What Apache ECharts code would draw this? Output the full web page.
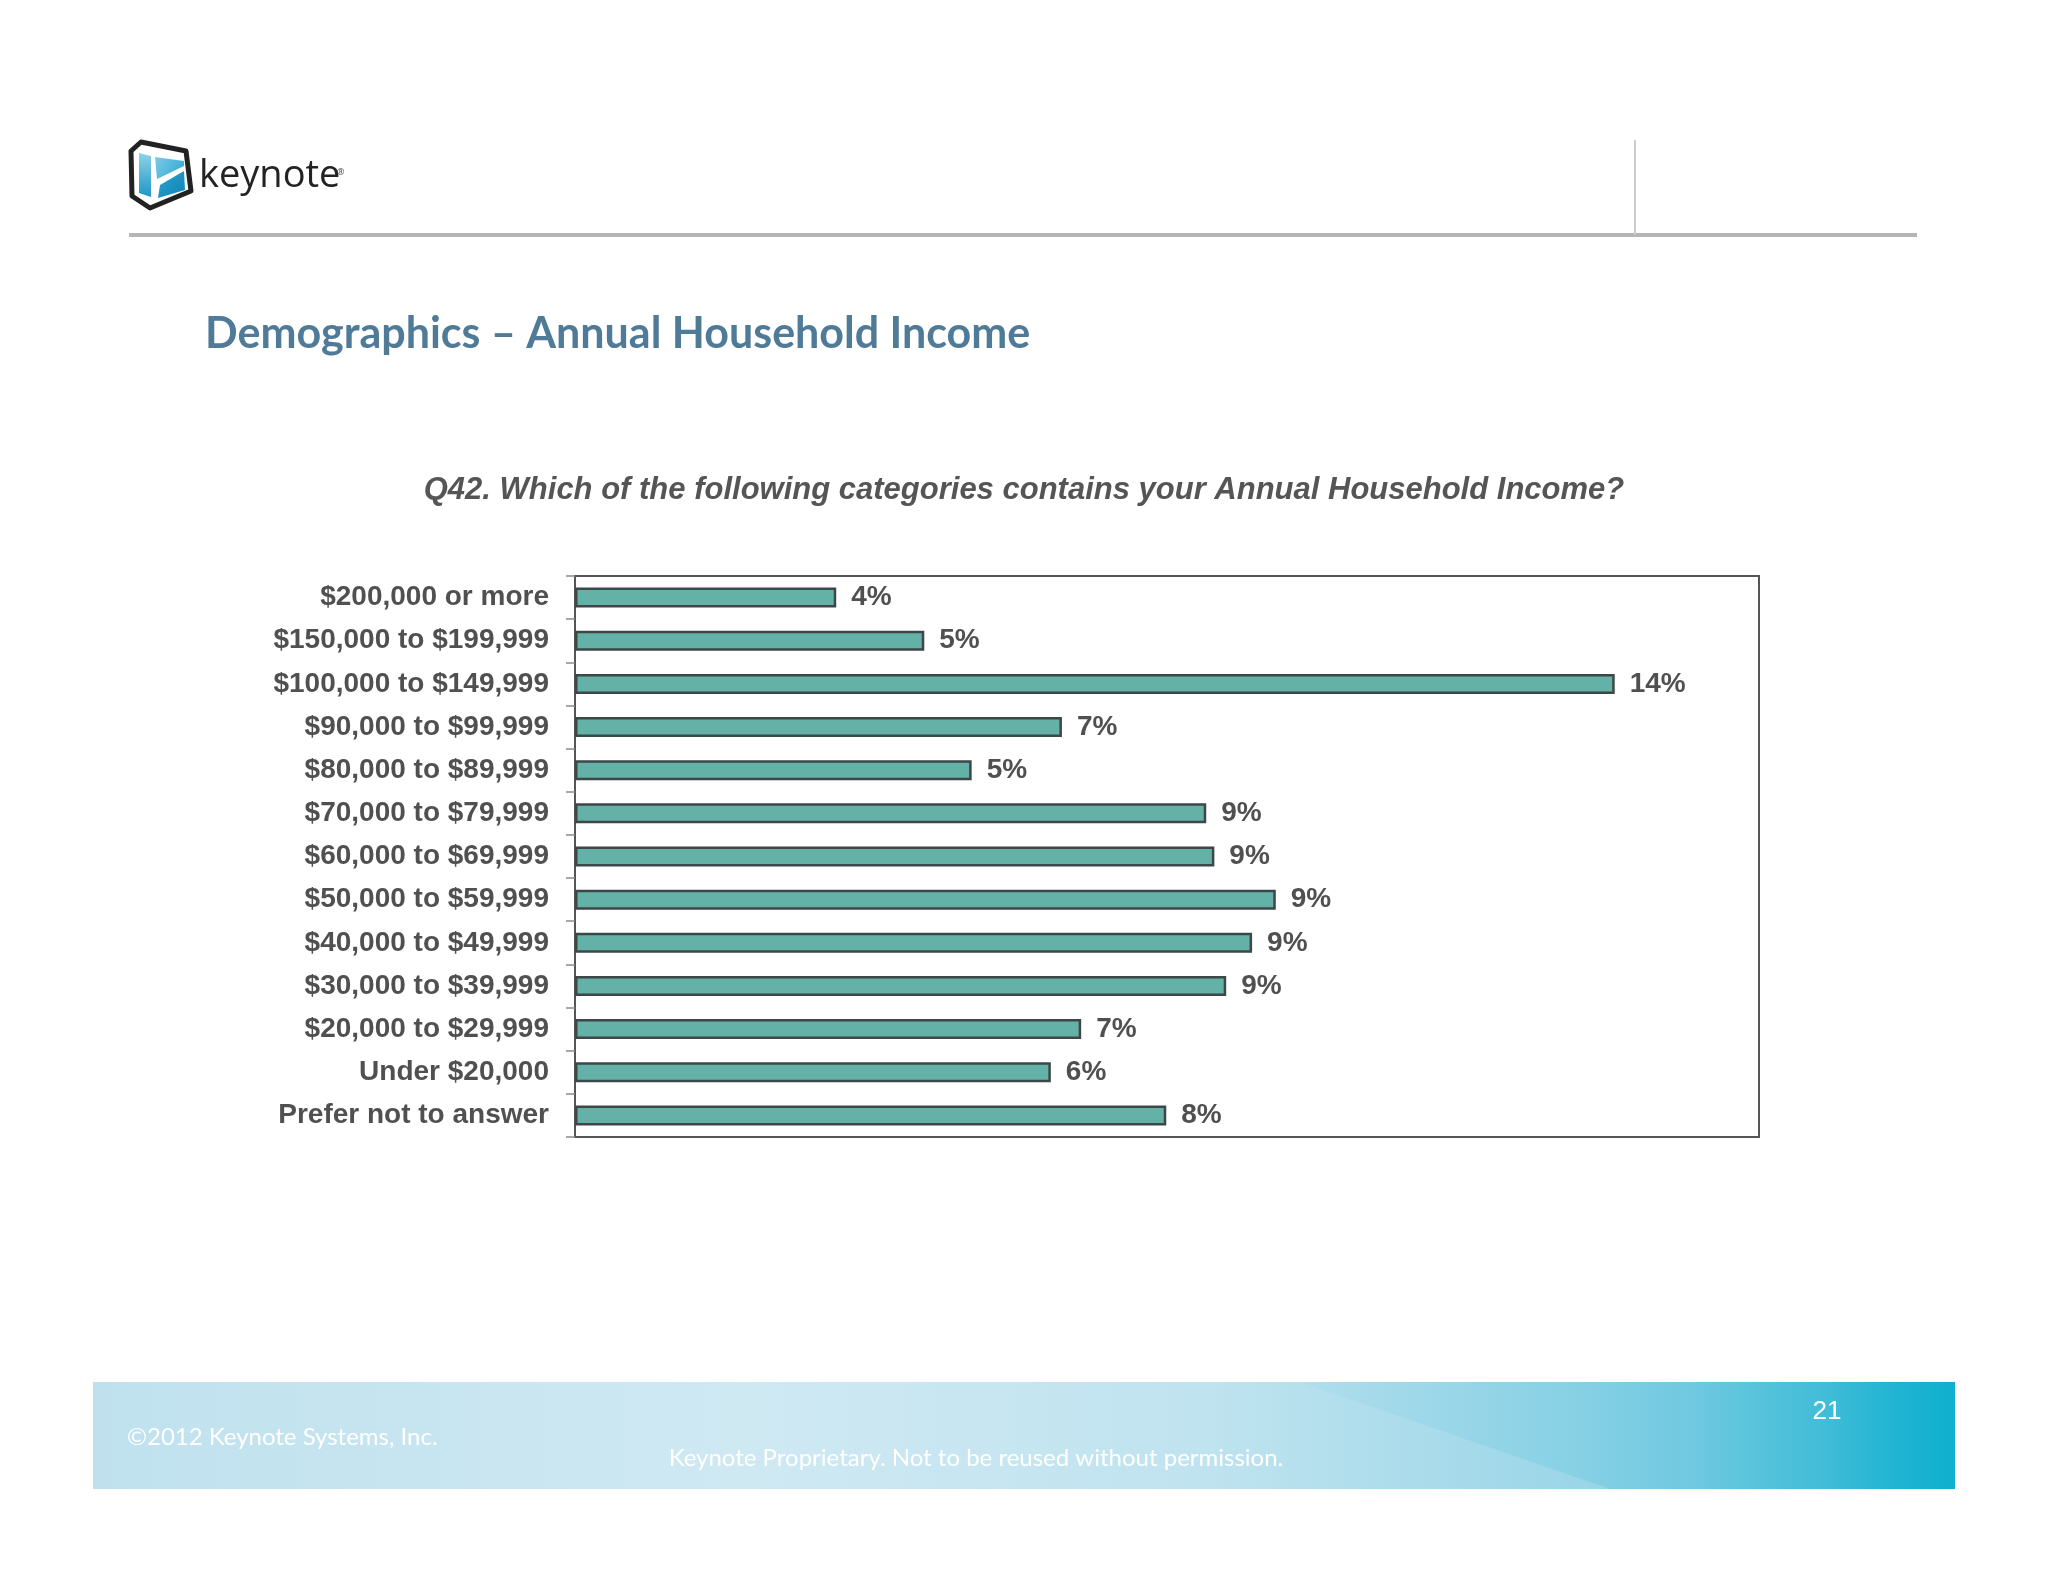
<!DOCTYPE html>
<html>
<head>
<meta charset="utf-8">
<script src="https://cdn.jsdelivr.net/npm/echarts@6/dist/echarts.min.js"></script>
<style>
html,body{margin:0;padding:0;background:#fff;}
#chart{width:2048px;height:1582px;}
</style>
</head>
<body>
<div id="chart"></div>
<script>
var categories = [
  "$200,000 or more",
  "$150,000 to $199,999",
  "$100,000 to $149,999",
  "$90,000 to $99,999",
  "$80,000 to $89,999",
  "$70,000 to $79,999",
  "$60,000 to $69,999",
  "$50,000 to $59,999",
  "$40,000 to $49,999",
  "$30,000 to $39,999",
  "$20,000 to $29,999",
  "Under $20,000",
  "Prefer not to answer"
];
var values = [3.53, 4.72, 14.05, 6.58, 5.36, 8.53, 8.64, 9.47, 9.15, 8.8, 6.84, 6.43, 7.99];
var valueLabels = ["4%", "5%", "14%", "7%", "5%", "9%", "9%", "9%", "9%", "9%", "7%", "6%", "8%"];
var chartTitle = "Q42. Which of the following categories contains your Annual Household Income?";
var slideTitle = "Demographics \u2013 Annual Household Income";

var chart = echarts.init(document.getElementById('chart'), null, {renderer: 'canvas'});
var labelFont = '"Liberation Sans", Arial, sans-serif';

var option = {
  backgroundColor: '#ffffff',
  animation: false,
  title: {
    text: chartTitle,
    left: 'center',
    top: 470,
    textStyle: {
      fontFamily: labelFont,
      fontSize: 31,
      fontWeight: 'bold',
      fontStyle: 'italic',
      color: '#555555'
    }
  },
  grid: {
    left: 575, top: 576, right: 289, bottom: 445,
    show: true,
    borderColor: '#555555',
    borderWidth: 2,
    backgroundColor: '#ffffff',
    containLabel: false
  },
  xAxis: {
    type: 'value',
    min: 0, max: 16,
    show: false
  },
  yAxis: {
    type: 'category',
    inverse: true,
    data: categories,
    axisLine: {show: true, lineStyle: {color: '#555555', width: 2}},
    axisTick: {show: true, length: 9, lineStyle: {color: '#8a8a8a', width: 1.5}},
    axisLabel: {
      margin: 26,
      fontFamily: labelFont,
      fontSize: 28,
      fontWeight: 'bold',
      color: '#505050',
      padding: [6, 0, 0, 0]
    },
    splitLine: {show: false}
  },
  series: [{
    type: 'bar',
    data: values,
    barWidth: 20,
    itemStyle: {color: '#63b1a7', borderColor: '#3d4747', borderWidth: 2.5},
    label: {
      show: true,
      position: 'right',
      distance: 15,
      padding: [6, 0, 0, 0],
      formatter: function (p) { return valueLabels[p.dataIndex]; },
      fontFamily: labelFont,
      fontSize: 28,
      fontWeight: 'bold',
      color: '#505050'
    }
  }],
  graphic: [
    // header line
    {type: 'rect', shape: {x: 129, y: 233, width: 1788, height: 4}, style: {fill: '#b5b5b5'}},
    {type: 'rect', shape: {x: 1634, y: 140, width: 2, height: 95}, style: {fill: '#cccccc'}},
    // logo
    {type: 'polygon', shape: {points: [[141,142],[186,151],[191,191],[150,208],[132,196],[131,151]]},
      style: {fill: '#ffffff', stroke: '#222222', lineWidth: 5, lineJoin: 'round'}},
    {type: 'polygon', shape: {points: [[139,153],[151,156],[151,197],[139,193]]},
      style: {fill: {type: 'linear', x: 0, y: 0, x2: 0, y2: 1, colorStops: [{offset: 0, color: '#8fd2ea'}, {offset: 1, color: '#1d97c4'}]}}},
    {type: 'polygon', shape: {points: [[155,157],[184,161],[184,166],[157,179]]},
      style: {fill: {type: 'linear', x: 0, y: 0, x2: 1, y2: 1, colorStops: [{offset: 0, color: '#7dcbe6'}, {offset: 1, color: '#2ba6d0'}]}}},
    {type: 'polygon', shape: {points: [[160,185],[184,171],[185,190],[158,198]]},
      style: {fill: {type: 'linear', x: 0, y: 0, x2: 1, y2: 1, colorStops: [{offset: 0, color: '#2aa3cf'}, {offset: 1, color: '#1184b5'}]}}},
    {type: 'text', left: 199, top: 157, style: {text: 'keynote', font: '500 38px "Open Sans", sans-serif', fill: '#232323'}},
    {type: 'text', left: 337, top: 168, style: {text: '\u00ae', font: '9px "Open Sans", sans-serif', fill: '#444'}},
    // slide title
    {type: 'text', left: 205, top: 313, style: {text: slideTitle, font: 'bold 43px Lato, "Open Sans", sans-serif', fill: '#4f7b98'}},
    // footer band
    {type: 'rect', shape: {x: 93, y: 1382, width: 1862, height: 107},
      style: {fill: {type: 'linear', x: 0, y: 0, x2: 1, y2: 0, colorStops: [
        {offset: 0, color: '#bfe1ee'},
        {offset: 0.35, color: '#cfe9f3'},
        {offset: 0.6, color: '#bfe3ef'},
        {offset: 0.8, color: '#9ad6e8'},
        {offset: 0.93, color: '#6cc9e0'},
        {offset: 1, color: '#12b1cf'}]}}},
    {type: 'polygon', shape: {points: [[1300,1382],[1955,1382],[1955,1489],[1610,1489]]},
      style: {fill: {type: 'linear', x: 0, y: 0, x2: 1, y2: 0, colorStops: [
        {offset: 0, color: 'rgba(90,195,222,0.06)'},
        {offset: 0.6, color: 'rgba(60,185,215,0.3)'},
        {offset: 1, color: 'rgba(15,176,207,0.9)'}]}}},
    {type: 'text', left: 127, top: 1425, style: {text: '\u00a92012 Keynote Systems, Inc.', font: '24px Lato, "Open Sans", sans-serif', fill: '#ffffff'}},
    {type: 'text', x: 976, y: 1458, style: {text: 'Keynote Proprietary. Not to be reused without permission.', font: '24px Lato, "Open Sans", sans-serif', fill: '#ffffff', textAlign: 'center', textVerticalAlign: 'middle'}},
    {type: 'text', x: 1827, y: 1412, style: {text: '21', font: '26px "Liberation Sans", Arial, sans-serif', fill: '#ffffff', textAlign: 'center', textVerticalAlign: 'middle'}}
  ]
};
chart.setOption(option);
</script>
</body>
</html>
